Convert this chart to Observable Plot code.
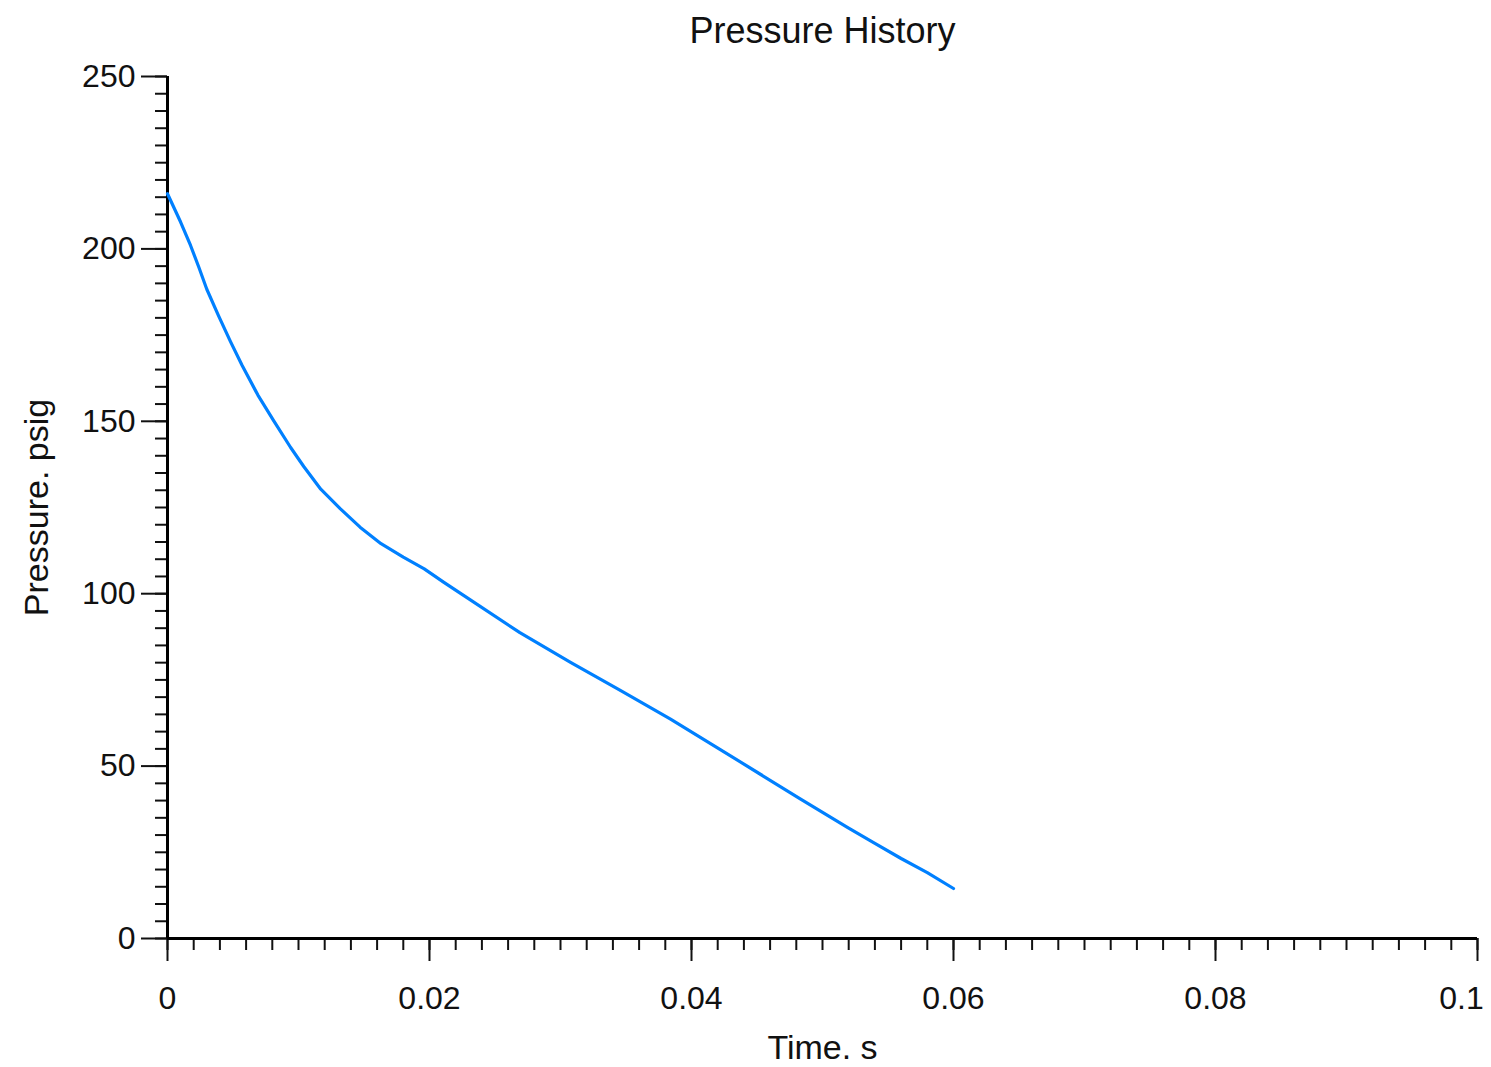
<!DOCTYPE html>
<html>
<head>
<meta charset="utf-8">
<script src="https://cdn.jsdelivr.net/npm/d3@7"></script>
<script src="https://cdn.jsdelivr.net/npm/@observablehq/plot@0.6"></script>
<style>
  html, body { margin: 0; padding: 0; background: #fff; }
</style>
</head>
<body>
<div id="chart"></div>
<script>
const title = "Pressure History";
const xLabel = "Time. s";
const yLabel = "Pressure. psig";

const timeS = [0, 0.001, 0.00176, 0.0024, 0.003, 0.0039, 0.0048, 0.0057, 0.0069, 0.0081, 0.0094, 0.0104, 0.0117, 0.0132, 0.0147, 0.0163, 0.018, 0.0196, 0.0211, 0.0226, 0.0269, 0.0308, 0.0346, 0.0384, 0.0422, 0.0483, 0.0519, 0.0539, 0.056, 0.058, 0.06];
const pressurePsig = [216, 207.8, 201, 194.6, 188.3, 180.6, 173.2, 166.2, 157.6, 150.2, 142.4, 136.9, 130.3, 124.6, 119.3, 114.5, 110.6, 107.2, 103.3, 99.5, 88.7, 80.0, 71.9, 63.6, 54.8, 40.5, 32.2, 27.8, 23.2, 19.1, 14.5];

const xTicks = [0, 0.02, 0.04, 0.06, 0.08, 0.1];
const xTickLabels = ["0", "0.02", "0.04", "0.06", "0.08", "0.1"];
const yTicks = [0, 50, 100, 150, 200, 250];
const yTickLabels = ["0", "50", "100", "150", "200", "250"];
const xMinorStep = 0.002;
const yMinorStep = 5;

const data = timeS.map((t, i) => ({t, p: pressurePsig[i]}));
const xMinor = d3.range(0, 50 + 1).map(i => i * xMinorStep);
const yMinor = d3.range(0, 50 + 1).map(i => i * yMinorStep);

const font = "'Liberation Sans', Arial, sans-serif";

const chart = Plot.plot({
  width: 1491,
  height: 1067,
  marginLeft: 167,
  marginRight: 14,
  marginTop: 76,
  marginBottom: 129,
  x: {domain: [0, 0.1]},
  y: {domain: [0, 250]},
  style: {fontFamily: font, color: "#111", background: "#fff", overflow: "visible"},
  marks: [
    Plot.axisX(xMinor, {tickSize: 12, strokeWidth: 2, stroke: "#111", tickFormat: () => "", label: null}),
    Plot.axisX(xTicks, {tickSize: 23, strokeWidth: 2, stroke: "#111", tickFormat: () => "", label: null}),
    Plot.axisY(yMinor, {tickSize: 12, strokeWidth: 2, stroke: "#111", tickFormat: () => "", label: null}),
    Plot.axisY(yTicks, {tickSize: 26, strokeWidth: 2, stroke: "#111", tickPadding: 6, fontSize: 32,
      tickFormat: d => yTickLabels[yTicks.indexOf(d)], label: null}),
    Plot.text(xTicks.slice(0, -1), {x: d => d, frameAnchor: "bottom", dy: 70, fontSize: 32,
      text: d => xTickLabels[xTicks.indexOf(d)]}),
    Plot.text(xTicks.slice(-1), {x: d => d, frameAnchor: "bottom", dy: 70, dx: -16, fontSize: 32,
      text: d => xTickLabels[xTicks.indexOf(d)]}),
    Plot.ruleX([0], {strokeWidth: 3, stroke: "#000"}),
    Plot.ruleY([0], {strokeWidth: 3, stroke: "#000"}),
    Plot.line(data, {x: "t", y: "p", stroke: "#0080ff", strokeWidth: 3.2}),
    Plot.text([title], {frameAnchor: "top", fontSize: 36, text: d => d, dy: -59}),
    Plot.text([xLabel], {frameAnchor: "bottom", dy: 120, fontSize: 34, text: d => d}),
    Plot.text([yLabel], {frameAnchor: "left", textAnchor: "middle", dx: -130, rotate: -90, fontSize: 34, text: d => d})
  ]
});
document.getElementById("chart").appendChild(chart);
</script>
</body>
</html>
